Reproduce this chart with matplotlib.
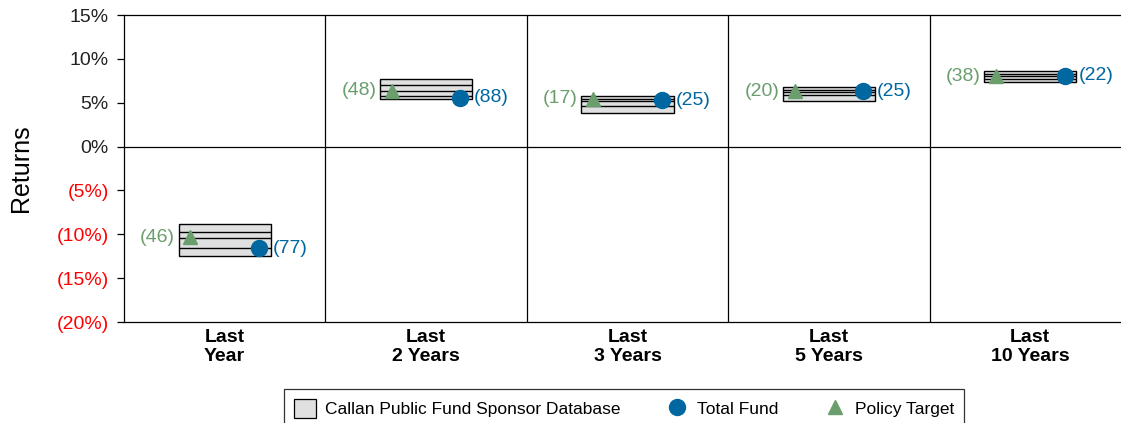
import matplotlib.pyplot as plt
from matplotlib.patches import Patch
from matplotlib.lines import Line2D

plt.rcParams['font.family'] = ['Liberation Sans', 'DejaVu Sans']

periods = ['Last\nYear', 'Last\n2 Years', 'Last\n3 Years', 'Last\n5 Years', 'Last\n10 Years']
p10 = [-12.5, 5.42, 3.83, 5.15, 7.31]
p25 = [-11.6, 5.72, 4.58, 5.83, 7.73]
p50 = [-10.4, 6.36, 5.19, 6.21, 7.99]
p75 = [-9.7, 6.97, 5.45, 6.48, 8.26]
p90 = [-8.86, 7.73, 5.80, 6.74, 8.56]

fund = [-11.6, 5.55, 5.30, 6.33, 8.10]
fund_rank = [77, 88, 25, 25, 22]
policy = [-10.35, 6.36, 5.45, 6.30, 7.99]
policy_rank = [46, 48, 17, 20, 38]

yticks = [-20, -15, -10, -5, 0, 5, 10, 15]

BLUE = '#0067a0'
GREEN = '#6a9e6c'
BOXFILL = '#e0e0e0'

fig = plt.figure(figsize=(11.21, 4.23), dpi=100)
ax = fig.add_axes([124 / 1121, 101 / 423, 1007 / 1121, 307 / 423])

x = list(range(1, len(periods) + 1))
bw = 0.457
off = 0.17

# floating bars: 10th-90th percentile, lines at 25th / median / 75th
ax.bar(x, [a - b for a, b in zip(p90, p10)], bottom=p10, width=bw,
       facecolor=BOXFILL, edgecolor='black', linewidth=1.0, zorder=3)
for vals in (p25, p50, p75):
    ax.hlines(vals, [xi - bw / 2 for xi in x], [xi + bw / 2 for xi in x],
              colors='black', linewidth=1.0, zorder=4)

for xi, v, r in zip(x, policy, policy_rank):
    ax.plot(xi - off, v, marker='^', color=GREEN, markersize=10, zorder=5,
            linestyle='none')
    ax.annotate(f'({r})', (xi - off, v), xytext=(-11, 0), textcoords='offset points',
                ha='right', va='center', color=GREEN, fontsize=14)
for xi, v, r in zip(x, fund, fund_rank):
    ax.plot(xi + off, v, marker='o', color=BLUE, markersize=11.5, zorder=6,
            linestyle='none')
    ax.annotate(f'({r})', (xi + off, v), xytext=(10, 0), textcoords='offset points',
                ha='left', va='center', color=BLUE, fontsize=14)

for b in [1.5, 2.5, 3.5, 4.5]:
    ax.axvline(b, color='black', linewidth=0.9, zorder=2)
ax.axhline(0, color='black', linewidth=0.9, zorder=2)

ax.set_xlim(0.5, 5.5)
ax.set_ylim(-20, 15)
ax.set_yticks(yticks)
labels = [f'({-t}%)' if t < 0 else f'{t}%' for t in yticks]
ax.set_yticklabels(labels, fontsize=14)
for lab, t in zip(ax.get_yticklabels(), yticks):
    lab.set_color('red' if t < 0 else '#222222')
ax.tick_params(axis='y', direction='out', length=5, width=0.9, pad=6)
ax.set_xticks(x)
ax.set_xticklabels(periods, fontsize=14, fontweight='bold', linespacing=1.12)
ax.tick_params(axis='x', length=0, pad=5)
ax.set_ylabel('Returns', fontsize=18, labelpad=17)

for s in ['top', 'bottom', 'left']:
    ax.spines[s].set_linewidth(0.9)
ax.spines['right'].set_visible(False)

handles = [
    Patch(facecolor=BOXFILL, edgecolor='black', linewidth=0.9),
    Line2D([], [], marker='o', color=BLUE, linestyle='none', markersize=11.5),
    Line2D([], [], marker='^', color=GREEN, linestyle='none', markersize=10),
]
leg = fig.legend(handles, ['Callan Public Fund Sponsor Database', 'Total Fund', 'Policy Target'],
                 loc='upper center', bbox_to_anchor=(624 / 1121, 1 - 389 / 423),
                 ncol=3, fontsize=12.5, frameon=True, fancybox=False,
                 handlelength=1.3, handleheight=1.25, handletextpad=0.5,
                 columnspacing=2.6, borderpad=0.6, borderaxespad=0)
leg.get_frame().set_edgecolor('black')
leg.get_frame().set_linewidth(0.9)

fig.savefig('out.png', dpi=100)
